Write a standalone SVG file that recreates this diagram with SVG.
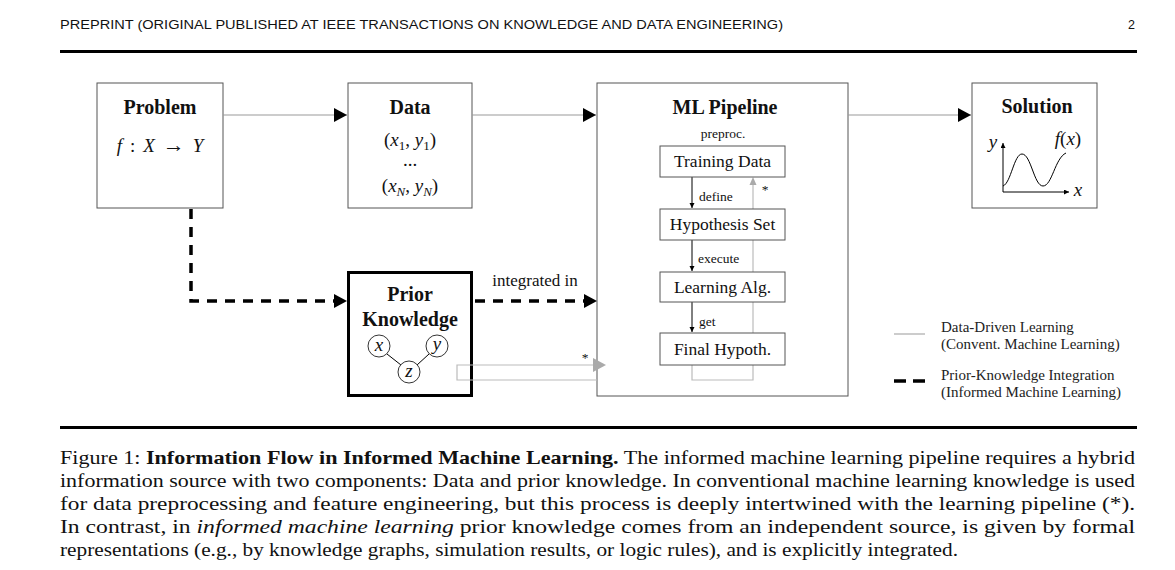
<svg xmlns="http://www.w3.org/2000/svg" width="1175" height="570" viewBox="0 0 1175 570">
<defs>
<style>
.hdr{font-family:"Liberation Sans",Arial,sans-serif;font-size:12.5px;fill:#111}
.ser{font-family:"Liberation Serif","Times New Roman",serif;fill:#111}
.ttl{font-weight:bold;font-size:20px;text-anchor:middle}
.lbl{font-size:17.5px;text-anchor:middle}
.sm{font-size:13.5px}
.math{font-family:"Liberation Serif","Times New Roman",serif;font-size:19px;fill:#111}
.it{font-style:italic}
.box{fill:#fff;stroke:#555;stroke-width:1}
.con{fill:none;stroke:#999;stroke-width:1}
.dash{fill:none;stroke:#000;stroke-width:3.5;stroke-dasharray:10 8}
.thin{fill:none;stroke:#000;stroke-width:1}
.fb{fill:none;stroke:#bbb;stroke-width:1.2}
.cap{font-family:"Liberation Serif","Times New Roman",serif;font-size:19px;fill:#111}
.leg{font-family:"Liberation Serif","Times New Roman",serif;font-size:15px;fill:#222}
</style>
<marker id="big" markerUnits="userSpaceOnUse" markerWidth="14" markerHeight="16" refX="13" refY="7" orient="auto"><path d="M0,0 L13,7 L0,14 Z" fill="#000"/></marker>
<marker id="sml" markerUnits="userSpaceOnUse" markerWidth="6" markerHeight="6" refX="5" refY="2.5" orient="auto"><path d="M0,0 L5,2.5 L0,5 Z" fill="#000"/></marker>
</defs>
<rect width="1175" height="570" fill="#fff"/>

<g id="header">
<text class="hdr" x="60" y="29" textLength="723" lengthAdjust="spacingAndGlyphs">PREPRINT (ORIGINAL PUBLISHED AT IEEE TRANSACTIONS ON KNOWLEDGE AND DATA ENGINEERING)</text>
<text class="hdr" x="1135" y="29" text-anchor="end">2</text>
<rect x="60" y="50" width="1077" height="3" fill="#000"/>
<rect x="60" y="426" width="1077" height="3" fill="#000"/>
</g>

<g id="problem">
<rect class="box" x="97" y="83" width="126" height="125"/>
<text class="ser ttl" x="160" y="114">Problem</text>
<text class="math" x="160" y="152" text-anchor="middle" font-size="20"><tspan class="it">f</tspan><tspan dx="8">:</tspan><tspan class="it" dx="8">X</tspan><tspan dx="8" font-size="22">→</tspan><tspan class="it" dx="8">Y</tspan></text>
</g>

<g id="data">
<rect class="box" x="348" y="83" width="124" height="125"/>
<text class="ser ttl" x="410" y="114">Data</text>
<text class="math" x="410" y="146" text-anchor="middle">(<tspan class="it">x</tspan><tspan font-size="13" dy="4">1</tspan><tspan dy="-4">, </tspan><tspan class="it">y</tspan><tspan font-size="13" dy="4">1</tspan><tspan dy="-4">)</tspan></text>
<text class="math" x="410" y="166" text-anchor="middle" font-size="14">...</text>
<text class="math" x="410" y="192" text-anchor="middle">(<tspan class="it">x</tspan><tspan class="it" font-size="13" dy="4">N</tspan><tspan dy="-4">, </tspan><tspan class="it">y</tspan><tspan class="it" font-size="13" dy="4">N</tspan><tspan dy="-4">)</tspan></text>
</g>

<g id="pipeline">
<rect class="box" x="597" y="83" width="251" height="313"/>
<text class="ser ttl" x="725" y="114">ML Pipeline</text>
<text class="ser sm" x="723" y="138" text-anchor="middle">preproc.</text>
<path class="fb" d="M692,365 L692,380 L753,380 L753,185"/>
<path d="M749.5,185 L753,177 L756.5,185 Z" fill="#aaa"/>
<text class="ser sm" x="765" y="194" text-anchor="middle">*</text>
<line class="thin" x1="692" y1="177" x2="692" y2="208" marker-end="url(#sml)"/>
<line class="thin" x1="692" y1="240" x2="692" y2="271" marker-end="url(#sml)"/>
<line class="thin" x1="692" y1="302" x2="692" y2="332" marker-end="url(#sml)"/>
<text class="ser sm" x="699" y="201">define</text>
<text class="ser sm" x="698" y="263">execute</text>
<text class="ser sm" x="699" y="326">get</text>
</g>

<g id="training-data">
<rect class="box" x="660" y="146" width="125" height="31"/>
<text class="ser lbl" x="722.5" y="167">Training Data</text>
</g>
<g id="hypothesis-set">
<rect class="box" x="660" y="209" width="125" height="31"/>
<text class="ser lbl" x="722.5" y="230">Hypothesis Set</text>
</g>
<g id="learning-alg">
<rect class="box" x="660" y="272" width="125" height="30"/>
<text class="ser lbl" x="722.5" y="293">Learning Alg.</text>
</g>
<g id="final-hypoth">
<rect class="box" x="660" y="333" width="125" height="32"/>
<text class="ser lbl" x="722.5" y="355">Final Hypoth.</text>
</g>

<g id="solution">
<rect class="box" x="972" y="83" width="125" height="125"/>
<text class="ser ttl" x="1037" y="113">Solution</text>
<text class="math" x="1068" y="145" text-anchor="middle"><tspan class="it">f</tspan>(<tspan class="it">x</tspan>)</text>
<text class="math it" x="993" y="148" text-anchor="middle">y</text>
<text class="math it" x="1078" y="196" text-anchor="middle">x</text>
<line class="thin" x1="1003" y1="192" x2="1003" y2="143" marker-end="url(#sml)"/>
<line class="thin" x1="1003" y1="192" x2="1069" y2="192" marker-end="url(#sml)"/>
<path class="thin" stroke-width="0.9" d="M1003,186 C1011,183 1014,154 1022,154 C1031,154 1034,186 1043,186 C1052,186 1055,158 1066,153"/>
</g>

<g id="prior-knowledge">
<rect x="348.5" y="272.5" width="123" height="123" fill="#fff" stroke="#000" stroke-width="3"/>
<text class="ser ttl" x="410" y="301">Prior</text>
<text class="ser ttl" x="410" y="326">Knowledge</text>
<line class="thin" stroke-width="0.8" x1="387" y1="354" x2="401" y2="365"/>
<line class="thin" stroke-width="0.8" x1="429" y1="354" x2="417" y2="365"/>
<circle cx="379" cy="346" r="11" fill="#fff" stroke="#000" stroke-width="0.8"/>
<circle cx="437" cy="346" r="11" fill="#fff" stroke="#000" stroke-width="0.8"/>
<circle cx="409" cy="372" r="11" fill="#fff" stroke="#000" stroke-width="0.8"/>
<text class="math it" x="379" y="351" font-size="15" text-anchor="middle">x</text>
<text class="math it" x="437" y="350" font-size="15" text-anchor="middle">y</text>
<text class="math it" x="409" y="377" font-size="15" text-anchor="middle">z</text>
</g>

<g id="connectors">
<line class="con" x1="223" y1="115" x2="347" y2="115" marker-end="url(#big)"/>
<line class="con" x1="472" y1="115" x2="596" y2="115" marker-end="url(#big)"/>
<line class="con" x1="848" y1="115" x2="971" y2="115" marker-end="url(#big)"/>
<path class="dash" d="M191,209 L191,301 L336,301"/>
<path d="M334,294 L347,301 L334,308 Z" fill="#000"/>
<path class="dash" d="M475,301 L586,301"/>
<path d="M584,294 L597,301 L584,308 Z" fill="#000"/>
<text class="ser" x="535" y="286" font-size="17" text-anchor="middle">integrated in</text>
<path class="fb" d="M597,380 L457,380 L457,365 L594,365"/>
<path d="M593,358 L606,365 L593,372 Z" fill="#aaa"/>
<text class="ser sm" x="585" y="362" text-anchor="middle">*</text>
</g>

<g id="legend">
<line x1="894" y1="334" x2="925" y2="334" stroke="#999" stroke-width="1"/>
<line x1="894" y1="381" x2="925" y2="381" stroke="#000" stroke-width="3.5" stroke-dasharray="12 7"/>
<text class="leg" x="941" y="332">Data-Driven Learning</text>
<text class="leg" x="941" y="349">(Convent. Machine Learning)</text>
<text class="leg" x="941" y="380">Prior-Knowledge Integration</text>
<text class="leg" x="941" y="397">(Informed Machine Learning)</text>
</g>

<g id="caption">
<text class="cap" x="60" y="464" textLength="1075" lengthAdjust="spacingAndGlyphs">Figure 1: <tspan font-weight="bold">Information Flow in Informed Machine Learning.</tspan> The informed machine learning pipeline requires a hybrid</text>
<text class="cap" x="60" y="487" textLength="1075" lengthAdjust="spacingAndGlyphs">information source with two components: Data and prior knowledge. In conventional machine learning knowledge is used</text>
<text class="cap" x="60" y="510" textLength="1075" lengthAdjust="spacingAndGlyphs">for data preprocessing and feature engineering, but this process is deeply intertwined with the learning pipeline (*).</text>
<text class="cap" x="60" y="533" textLength="1075" lengthAdjust="spacingAndGlyphs">In contrast, in <tspan font-style="italic">informed machine learning</tspan> prior knowledge comes from an independent source, is given by formal</text>
<text class="cap" x="60" y="556" textLength="898" lengthAdjust="spacingAndGlyphs">representations (e.g., by knowledge graphs, simulation results, or logic rules), and is explicitly integrated.</text>
</g>
</svg>
